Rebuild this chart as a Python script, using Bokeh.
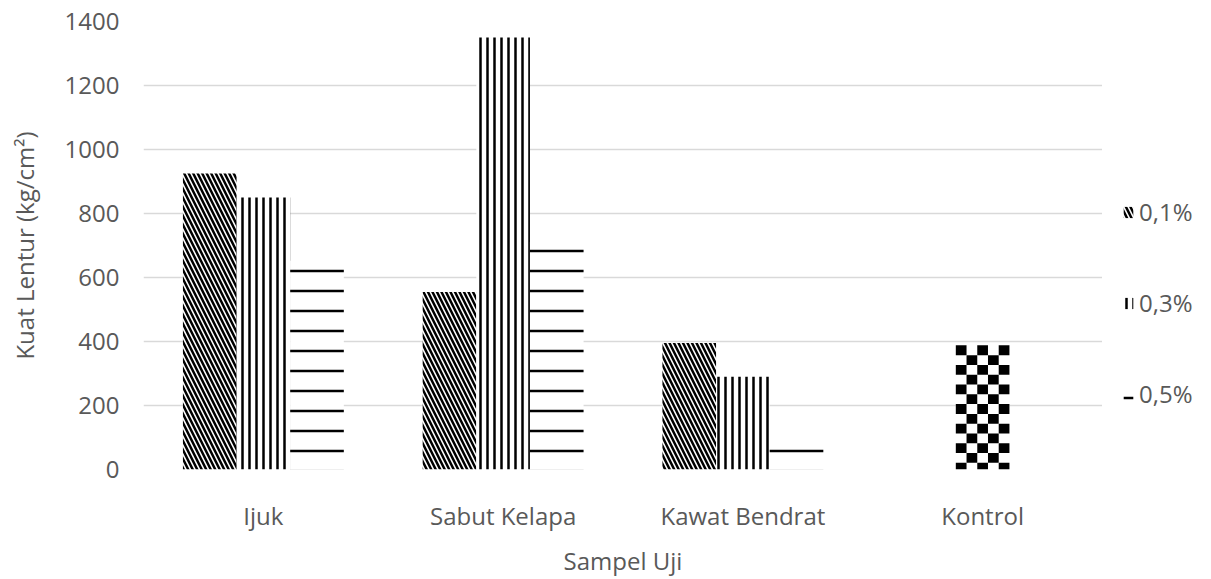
import numpy as np
from bokeh.plotting import figure
from bokeh.layouts import row
from bokeh.models import ColumnDataSource, Range1d, FactorRange, Legend, LegendItem
from bokeh.transform import dodge
from bokeh.embed import file_html
from bokeh.resources import INLINE

categories = ["Ijuk", "Sabut Kelapa", "Kawat Bendrat", "Kontrol"]
series_cats = ["Ijuk", "Sabut Kelapa", "Kawat Bendrat"]
series_names = ["0,1%", "0,3%", "0,5%"]
v_01 = [925, 555, 395]
v_03 = [850, 1350, 290]
v_05 = [652, 712, 107]
kontrol_cat = ["Kontrol"]
kontrol_val = [388]
y_ticks = [0, 200, 400, 600, 800, 1000, 1200, 1400]

FONT = "Open Sans"
TXT = "#595959"
GRID = "#d9d9d9"

STYLES = [
    dict(hatch_pattern="left_diagonal_line", hatch_weight=2.5, hatch_scale=9),
    dict(hatch_pattern="vertical_line", hatch_weight=2.5, hatch_scale=7),
    dict(hatch_pattern="horizontal_line", hatch_weight=2.5, hatch_scale=20),
]

p = figure(width=1102, height=579, x_range=FactorRange(*categories), y_range=Range1d(0, 1400),
           output_backend="svg", toolbar_location=None,
           min_border_left=143, min_border_right=0, min_border_top=21, min_border_bottom=101)
p.outline_line_color = None
p.background_fill_color = "white"
p.border_fill_color = "white"
p.xgrid.grid_line_color = None
p.ygrid.grid_line_color = GRID
p.ygrid.grid_line_width = 1.5
p.yaxis.ticker = y_ticks

for ax in (p.xaxis[0], p.yaxis[0]):
    ax.axis_line_color = None
    ax.major_tick_line_color = None
    ax.minor_tick_line_color = None
    ax.major_label_text_font = FONT
    ax.major_label_text_font_size = "24px"
    ax.major_label_text_color = TXT
    ax.axis_label_text_font = FONT
    ax.axis_label_text_font_size = "24px"
    ax.axis_label_text_color = TXT
    ax.axis_label_text_font_style = "normal"

p.yaxis.axis_label = "Kuat Lentur (kg/cm²)"
p.yaxis.major_label_standoff = 18
p.yaxis.axis_label_standoff = 21
p.xaxis.axis_label = "Sampel Uji"
p.xaxis.major_label_standoff = 23
p.xaxis.axis_label_standoff = 9

src = ColumnDataSource(dict(cat=series_cats, s1=v_01, s3=v_03, s5=v_05))
ksrc = ColumnDataSource(dict(cat=kontrol_cat, v=kontrol_val))

W = 0.2237
for off, col, st in zip([-W, 0, W], ["s1", "s3", "s5"], STYLES):
    p.vbar(x=dodge("cat", off, range=p.x_range), top=col, width=W, source=src,
           fill_color="white", line_color=None, hatch_color="black", **st)

# Kontrol bar: white base plus checkerboard fill derived from its value
p.vbar(x=dodge("cat", 0, range=p.x_range), top="v", width=W, source=ksrc,
       fill_color="white", line_color=None)
kx = categories.index(kontrol_cat[0]) + 0.5
ncol = 5
cell_w = W / ncol
cell_h = 30.6
kv = kontrol_val[0]
nrow = int(np.ceil(kv / cell_h))
L, R, B, T = [], [], [], []
for i in range(nrow):
    top_i = kv - i * cell_h
    bot_i = max(0.0, kv - (i + 1) * cell_h)
    for j in range(ncol):
        if (i + j) % 2 == 0:
            L.append(kx - W / 2 + j * cell_w)
            R.append(kx - W / 2 + (j + 1) * cell_w)
            T.append(top_i)
            B.append(bot_i)
p.quad(left=L, right=R, top=T, bottom=B, fill_color="black", line_color=None)

# Legend panel (separate narrow figure to the right of the plot area);
# its renderers are zero-height proxies that only supply the legend swatches.
lp = figure(width=109, height=579, x_range=Range1d(0, 1), y_range=Range1d(0, 1),
            output_backend="svg", toolbar_location=None, x_axis_type=None, y_axis_type=None,
            min_border=0)
lp.outline_line_color = None
lp.grid.visible = False
lp.background_fill_color = "white"
lp.border_fill_color = "white"
proxy = ColumnDataSource(dict(x=[0], top=[0]))
items = []
for name, st in zip(series_names, STYLES):
    r = lp.vbar(x="x", top="top", width=0, source=proxy, fill_color="white",
                line_color=None, hatch_color="black", **st)
    items.append(LegendItem(label=name, renderers=[r]))
legend = Legend(items=items, location=(20, 59), orientation="vertical",
                glyph_width=12, glyph_height=14, label_height=14,
                spacing=58, padding=0, margin=0, label_standoff=5,
                border_line_color=None, background_fill_alpha=0,
                label_text_font=FONT, label_text_font_size="24px", label_text_color=TXT)
lp.add_layout(legend, "center")

layout = row(p, lp)
open("out.html", "w").write(file_html(layout, INLINE))
